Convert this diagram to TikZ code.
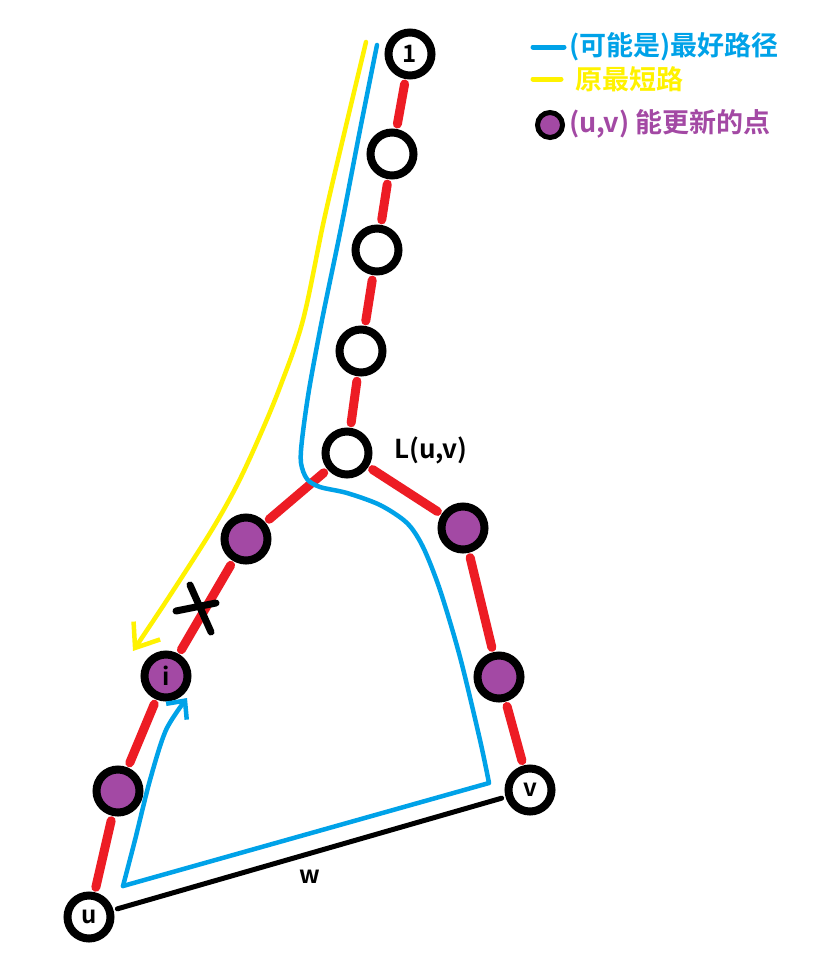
\documentclass[tikz,border=0pt]{standalone}
\usepackage{fontspec}
\setmainfont{Noto Sans CJK SC Bold}
\usetikzlibrary{arrows.meta}
\definecolor{pred}{HTML}{ED1C24}
\definecolor{pblue}{HTML}{00A2E8}
\definecolor{pyellow}{HTML}{FFF200}
\definecolor{ppurple}{HTML}{A349A4}
\tikzset{
  pnode/.style={circle, draw=black, fill=white, line width=8pt, minimum size=43pt, inner sep=0pt, outer sep=0pt, font=\fontsize{24}{24}\selectfont},
  upnode/.style={pnode, fill=ppurple},
  redge/.style={draw=pred, line width=9pt, line cap=round, shorten <=9pt, shorten >=9pt},
  wedge/.style={draw=black, line width=5pt, line cap=round, shorten <=8pt, shorten >=8pt},
  bluepath/.style={draw=pblue, line width=4.5pt, line cap=round, line join=round},
  yellowpath/.style={draw=pyellow, line width=4.5pt, line cap=round, line join=round},
  legtext/.style={anchor=west, inner sep=0pt, font=\fontsize{27}{27}\selectfont},
}
\begin{document}
\begin{tikzpicture}[x=1pt,y=-1pt]
\useasboundingbox[fill=white] (0,0) rectangle (836,964);
% nodes
\node[pnode] (n1) at (410,54) {1};
\node[pnode] (n2) at (392,154) {};
\node[pnode] (n3) at (377,250) {};
\node[pnode] (n4) at (361,351) {};
\node[pnode] (L) at (347,453) {};
\node[upnode] (lp1) at (246,539) {};
\node[upnode] (i) at (166,676) {i};
\node[upnode] (lp2) at (118,791) {};
\node[pnode] (u) at (89,917) {u};
\node[upnode] (rp1) at (463,528) {};
\node[upnode] (rp2) at (499,677) {};
\node[pnode] (v) at (530,790) {v};
\node[anchor=west, inner sep=0pt, font=\fontsize{26}{26}\selectfont] (Llab) at (394,450) {L(u,v)};
% red edges
\draw[redge] (n1) -- (n2);
\draw[redge] (n2) -- (n3);
\draw[redge] (n3) -- (n4);
\draw[redge] (n4) -- (L);
\draw[redge] (L) -- (lp1);
\draw[redge] (lp1) -- (i);
\draw[redge] (i) -- (lp2);
\draw[redge] (lp2) -- (u);
\draw[redge] (L) -- (rp1);
\draw[redge] (rp1) -- (rp2);
\draw[redge] (rp2) -- (v);
% w edge
\draw[wedge] (u) -- node[pos=0.5, below=14pt, font=\fontsize{24}{24}\selectfont, inner sep=0pt] (wlab) {w} (v);
% X mark
\draw[line width=7pt, line cap=round] (190,585) -- (211,632);
\draw[line width=7pt, line cap=round] (176,611) -- (216,603);
% yellow path
\draw[yellowpath, -{Straight Barb[length=21pt, width=32pt]}] plot[smooth, tension=0.55] coordinates {(366,42) (345,130) (324,220) (303,320) (280,387) (258,440) (236,487) (210,533) (167,600) (133,651)};
% blue path
\draw[bluepath] plot[smooth, tension=0.5] coordinates {(377,45) (360,130) (341,228) (322,320) (309,390) (302,440) (301,463) (307,479) (320,487) (347,493) (380,505) (407,523) (423,547) (440,590) (460,657) (480,740) (489,783)} -- (123,886);
\draw[bluepath, -{Straight Barb[length=14pt, width=26pt]}] plot[smooth, tension=0.5] coordinates {(123,886) (135,840) (150,780) (166,730) (187,698)};
% legend
\coordinate (lb1) at (533,47);
\coordinate (lb2) at (564,47);
\coordinate (ly1) at (533,79);
\coordinate (ly2) at (561,79);
\draw[draw=pblue, line width=5pt, line cap=round] (lb1) -- (lb2);
\draw[draw=pyellow, line width=5pt, line cap=round] (ly1) -- (ly2);
\node[legtext, text=pblue] (tb) at (569,47) {(可能是)最好路径};
\node[legtext, text=pyellow] (ty) at (575,79) {原最短路};
\node[circle, draw=black, fill=ppurple, line width=5pt, minimum size=25pt, inner sep=0pt] (lp) at (550,125) {};
\node[legtext, text=ppurple] (tp) at (569,124) {(u,v) 能更新的点};
\end{tikzpicture}
\end{document}
